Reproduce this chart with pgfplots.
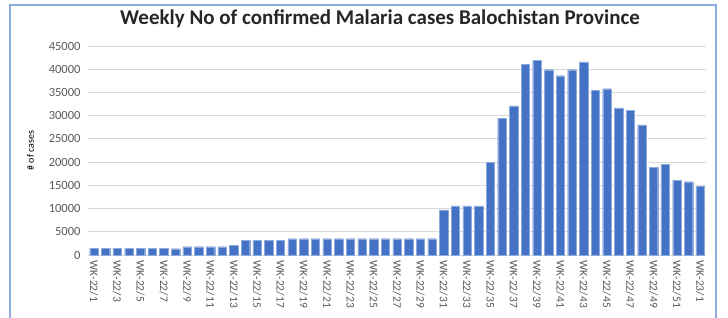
\documentclass[border=0pt]{standalone}
\usepackage{pgfplots}
\pgfplotsset{compat=1.18}
\usepackage{fontspec}
\setmainfont{Carlito}
\definecolor{barblue}{HTML}{4472C4}
\definecolor{framecol}{HTML}{8FAADC}
\definecolor{gridcol}{HTML}{D9D9D9}
\definecolor{txtgray}{HTML}{595959}
\begin{document}
\begin{tikzpicture}
\path[use as bounding box] (0pt,0pt) rectangle (728pt,318pt);
\draw[framecol, line width=1.2pt] (10pt,-2pt) -- (10pt,313pt) -- (716pt,313pt) -- (716pt,-2pt);
\node[font=\fontsize{21}{24}\selectfont\bfseries, text=black!85] at (380pt,299pt) {Weekly No of confirmed Malaria cases Balochistan Province};
\begin{axis}[
  at={(88pt,63pt)}, anchor=south west,
  scale only axis, width=618pt, height=209pt,
  xmin=-0.5, xmax=52.5, ymin=0, ymax=45000,
  ytick={0,5000,...,45000},
  ymajorgrids, grid style={gridcol, line width=0.8pt},
  axis line style={draw=none},
  axis x line*=bottom,
  x axis line style={gridcol, line width=0.8pt},
  major tick length=0pt,
  xtick={0,2,...,52},
  xticklabels={WK-22/1,WK-22/3,WK-22/5,WK-22/7,WK-22/9,WK-22/11,WK-22/13,WK-22/15,WK-22/17,WK-22/19,WK-22/21,WK-22/23,WK-22/25,WK-22/27,WK-22/29,WK-22/31,WK-22/33,WK-22/35,WK-22/37,WK-22/39,WK-22/41,WK-22/43,WK-22/45,WK-22/47,WK-22/49,WK-22/51,WK-23/1},
  x tick label style={rotate=-90, anchor=west, font=\fontsize{11.5}{13}\selectfont, text=txtgray},
  xticklabel shift=2pt,
  y tick label style={font=\fontsize{12.5}{14}\selectfont, text=txtgray},
  yticklabel shift=4pt,
  scaled y ticks=false,
  /pgf/number format/assume math mode=true,
  yticklabel style={/pgf/number format/fixed, /pgf/number format/set thousands separator={}},
  ylabel={\# of cases},
  ylabel style={font=\fontsize{13}{15}\selectfont, text=txtgray},
  every axis y label/.style={at={(ticklabel cs:0.5)}, rotate=90, anchor=south},
  ylabel shift=8pt,
  clip=false,
]
\addplot[ybar, bar width=8.4pt, fill=barblue, draw=barblue!60!white, line width=0.2pt] coordinates {
(0,1450) (1,1450) (2,1450) (3,1450) (4,1450) (5,1450) (6,1450) (7,1350)
(8,1800) (9,1800) (10,1800) (11,1800) (12,2150)
(13,3150) (14,3150) (15,3150) (16,3150)
(17,3500) (18,3500) (19,3500) (20,3500) (21,3500) (22,3500) (23,3500) (24,3500) (25,3500) (26,3500) (27,3500) (28,3500) (29,3500)
(30,9700) (31,10600) (32,10600) (33,10600) (34,19900) (35,29400) (36,32100) (37,41000) (38,41900) (39,39900) (40,38600) (41,39900) (42,41600) (43,35500) (44,35800) (45,31700) (46,31100) (47,28000) (48,18900) (49,19500) (50,16100) (51,15800) (52,14800)
};
\end{axis}
\end{tikzpicture}
\end{document}
